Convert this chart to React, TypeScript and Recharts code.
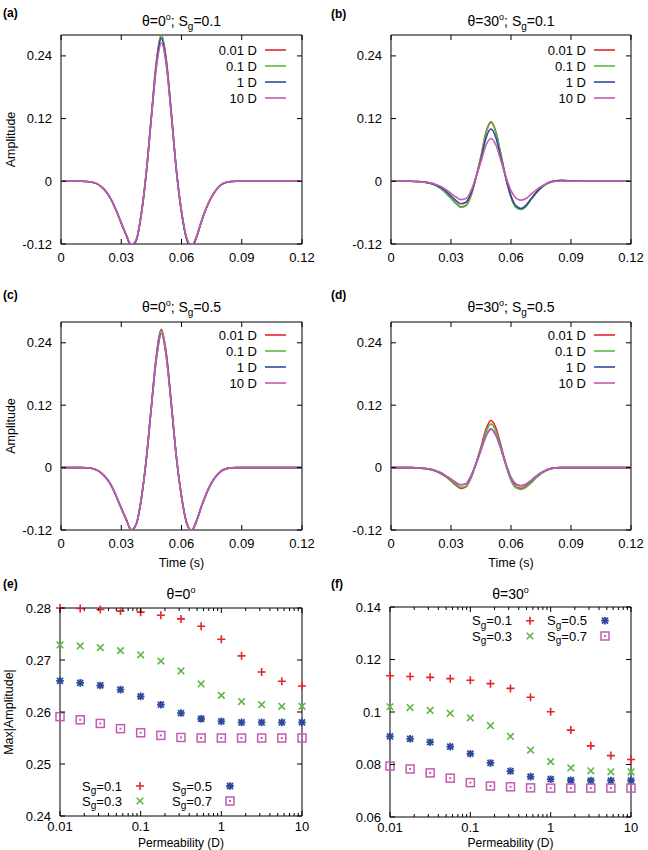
import React from 'react';
import { LineChart, Line, XAxis, YAxis, ScatterChart, Scatter, ReferenceArea, Customized } from 'recharts';

const FONT = '"Liberation Sans", Arial, Helvetica, sans-serif';
const RED = '#e3262b';
const GREEN = '#5db646';
const BLUE = '#2d4b9c';
const PINK = '#c45bb2';
const SERIES_COLORS = [RED, GREEN, BLUE, PINK];

// ---------- time-domain panels (a)-(d) ----------
const timeS = [0, 0.005, 0.01, 0.0125, 0.015, 0.0175, 0.02, 0.0225, 0.025, 0.0275, 0.03, 0.0325, 0.035, 0.0375, 0.04, 0.0425, 0.045, 0.0475, 0.05, 0.0525, 0.055, 0.0575, 0.06, 0.0625, 0.065, 0.0675, 0.07, 0.0725, 0.075, 0.0775, 0.08, 0.0825, 0.085, 0.0875, 0.09, 0.1, 0.11, 0.12];
const permLabels = ['0.01 D', '0.1 D', '1 D', '10 D'];
const timeTicks = [0, 0.03, 0.06, 0.09, 0.12];
const ampTicks = [-0.12, 0, 0.12, 0.24];

// (a) theta=0, Sg=0.1
const aD001 = [0, 0, 0, -0.0003, -0.0012, -0.004, -0.01, -0.02, -0.035, -0.056, -0.08, -0.103, -0.123, -0.112, -0.062, 0.018, 0.125, 0.228, 0.28, 0.23, 0.128, 0.02, -0.058, -0.109, -0.125, -0.106, -0.076, -0.05, -0.03, -0.015, -0.006, -0.002, -0.0005, 0, 0, 0, 0, 0];
const aD01 = [0, 0, 0, -0.0003, -0.0012, -0.004, -0.01, -0.02, -0.035, -0.056, -0.08, -0.103, -0.123, -0.112, -0.062, 0.018, 0.124, 0.227, 0.279, 0.229, 0.127, 0.02, -0.058, -0.109, -0.125, -0.106, -0.076, -0.05, -0.03, -0.015, -0.006, -0.002, -0.0005, 0, 0, 0, 0, 0];
const aD1 = [0, 0, 0, -0.0003, -0.0012, -0.004, -0.01, -0.02, -0.035, -0.056, -0.08, -0.103, -0.124, -0.113, -0.063, 0.017, 0.123, 0.223, 0.274, 0.225, 0.125, 0.019, -0.059, -0.11, -0.126, -0.107, -0.076, -0.05, -0.03, -0.015, -0.006, -0.002, -0.0005, 0, 0, 0, 0, 0];
const aD10 = [0, 0, 0, -0.0003, -0.0012, -0.004, -0.01, -0.02, -0.035, -0.056, -0.079, -0.102, -0.121, -0.111, -0.062, 0.017, 0.121, 0.218, 0.265, 0.22, 0.123, 0.019, -0.057, -0.107, -0.122, -0.105, -0.075, -0.05, -0.03, -0.015, -0.006, -0.002, -0.0005, 0, 0, 0, 0, 0];

// (b) theta=30, Sg=0.1
const bD001 = [0, 0, 0, -0.0005, -0.001, -0.002, -0.004, -0.008, -0.014, -0.022, -0.032, -0.042, -0.049, -0.046, -0.027, 0.008, 0.048, 0.094, 0.1138, 0.094, 0.05, 0.006, -0.03, -0.049, -0.053, -0.047, -0.034, -0.022, -0.012, -0.005, -0.001, 0.001, 0.0015, 0.001, 0.0005, 0, 0, 0];
const bD01 = [0, 0, 0, -0.0005, -0.001, -0.002, -0.004, -0.008, -0.014, -0.023, -0.033, -0.043, -0.05, -0.047, -0.028, 0.007, 0.047, 0.092, 0.1121, 0.093, 0.05, 0.006, -0.031, -0.05, -0.054, -0.048, -0.035, -0.023, -0.013, -0.006, -0.002, 0.0005, 0.001, 0.001, 0.0005, 0, 0, 0];
const bD1 = [0, 0, 0, -0.0005, -0.001, -0.002, -0.004, -0.007, -0.012, -0.019, -0.028, -0.037, -0.043, -0.04, -0.023, 0.007, 0.042, 0.083, 0.1001, 0.083, 0.044, 0.005, -0.028, -0.047, -0.052, -0.046, -0.034, -0.022, -0.012, -0.005, -0.001, 0.001, 0.002, 0.0015, 0.0005, 0, 0, 0];
const bD10 = [0, 0, 0, -0.0005, -0.001, -0.002, -0.003, -0.006, -0.01, -0.016, -0.023, -0.03, -0.035, -0.033, -0.018, 0.008, 0.038, 0.069, 0.0819, 0.069, 0.039, 0.008, -0.018, -0.032, -0.036, -0.033, -0.025, -0.017, -0.01, -0.005, -0.002, 0, 0.0005, 0.0005, 0, 0, 0, 0];

// (c) theta=0, Sg=0.5
const cD001 = [0, 0, 0, -0.0003, -0.0012, -0.004, -0.01, -0.02, -0.034, -0.055, -0.078, -0.1, -0.12, -0.109, -0.06, 0.017, 0.119, 0.216, 0.266, 0.218, 0.121, 0.019, -0.056, -0.106, -0.121, -0.103, -0.074, -0.049, -0.029, -0.015, -0.006, -0.002, -0.0005, 0, 0, 0, 0, 0];
const cD01 = [0, 0, 0, -0.0003, -0.0012, -0.004, -0.01, -0.02, -0.034, -0.055, -0.078, -0.1, -0.121, -0.109, -0.06, 0.017, 0.118, 0.214, 0.263, 0.216, 0.12, 0.019, -0.056, -0.106, -0.122, -0.103, -0.074, -0.049, -0.029, -0.015, -0.006, -0.002, -0.0005, 0, 0, 0, 0, 0];
const cD1 = [0, 0, 0, -0.0003, -0.0012, -0.004, -0.01, -0.02, -0.034, -0.055, -0.078, -0.1, -0.12, -0.108, -0.059, 0.017, 0.116, 0.21, 0.258, 0.212, 0.118, 0.018, -0.055, -0.105, -0.121, -0.102, -0.074, -0.049, -0.029, -0.015, -0.006, -0.002, -0.0005, 0, 0, 0, 0, 0];
const cD10 = [0, 0, 0, -0.0003, -0.0012, -0.004, -0.01, -0.02, -0.034, -0.055, -0.078, -0.1, -0.119, -0.108, -0.059, 0.017, 0.116, 0.209, 0.258, 0.211, 0.117, 0.018, -0.055, -0.105, -0.12, -0.102, -0.074, -0.049, -0.029, -0.015, -0.006, -0.002, -0.0005, 0, 0, 0, 0, 0];

// (d) theta=30, Sg=0.5
const dD001 = [0, 0, 0, -0.0003, -0.001, -0.002, -0.004, -0.007, -0.012, -0.018, -0.026, -0.034, -0.04, -0.037, -0.02, 0.008, 0.04, 0.074, 0.0907, 0.076, 0.042, 0.006, -0.022, -0.037, -0.04, -0.036, -0.028, -0.019, -0.011, -0.005, -0.002, -0.0005, 0, 0, 0, 0, 0, 0];
const dD01 = [0, 0, 0, -0.0003, -0.001, -0.002, -0.004, -0.007, -0.011, -0.017, -0.025, -0.032, -0.038, -0.036, -0.019, 0.008, 0.038, 0.069, 0.0841, 0.07, 0.038, 0.003, -0.025, -0.039, -0.042, -0.038, -0.03, -0.02, -0.012, -0.006, -0.002, -0.0005, 0, 0, 0, 0, 0, 0];
const dD1 = [0, 0, 0, -0.0003, -0.001, -0.002, -0.003, -0.006, -0.01, -0.016, -0.022, -0.029, -0.033, -0.031, -0.016, 0.007, 0.034, 0.061, 0.0744, 0.062, 0.036, 0.006, -0.019, -0.032, -0.035, -0.032, -0.025, -0.017, -0.01, -0.005, -0.002, -0.0005, 0, 0, 0, 0, 0, 0];
const dD10 = [0, 0, 0, -0.0003, -0.001, -0.002, -0.003, -0.006, -0.01, -0.016, -0.022, -0.029, -0.033, -0.031, -0.016, 0.007, 0.034, 0.061, 0.074, 0.062, 0.036, 0.006, -0.019, -0.032, -0.035, -0.032, -0.025, -0.017, -0.01, -0.005, -0.002, -0.0005, 0, 0, 0, 0, 0, 0];

// ---------- permeability panels (e)-(f) ----------
const permD = [0.01, 0.0178, 0.0316, 0.0562, 0.1, 0.178, 0.316, 0.562, 1, 1.78, 3.16, 5.62, 10];
const permMajor = [0.01, 0.1, 1, 10];
const permMinor = [0.02, 0.03, 0.04, 0.05, 0.06, 0.07, 0.08, 0.09, 0.2, 0.3, 0.4, 0.5, 0.6, 0.7, 0.8, 0.9, 2, 3, 4, 5, 6, 7, 8, 9];
const sgLabels = ['0.1', '0.3', '0.5', '0.7'];

const eSg01 = [0.28, 0.2799, 0.2797, 0.2794, 0.2792, 0.2786, 0.2779, 0.2765, 0.274, 0.2708, 0.2677, 0.2659, 0.265];
const eSg03 = [0.2729, 0.2727, 0.2724, 0.2718, 0.271, 0.2698, 0.2679, 0.2654, 0.2632, 0.262, 0.2614, 0.2611, 0.2611];
const eSg05 = [0.266, 0.2656, 0.2651, 0.2643, 0.263, 0.2614, 0.2598, 0.2587, 0.2582, 0.258, 0.258, 0.258, 0.258];
const eSg07 = [0.2591, 0.2585, 0.2578, 0.2568, 0.256, 0.2555, 0.2551, 0.255, 0.255, 0.255, 0.255, 0.255, 0.255];
const eTicks = [0.24, 0.25, 0.26, 0.27, 0.28];

const fSg01 = [0.1138, 0.1135, 0.1132, 0.1127, 0.1121, 0.1108, 0.109, 0.1056, 0.1001, 0.0931, 0.0871, 0.0834, 0.0819];
const fSg03 = [0.102, 0.1017, 0.1006, 0.0995, 0.0978, 0.0948, 0.0907, 0.0855, 0.0811, 0.0787, 0.0776, 0.0772, 0.0772];
const fSg05 = [0.0907, 0.0898, 0.0885, 0.0868, 0.0841, 0.0806, 0.0775, 0.0754, 0.0744, 0.074, 0.0739, 0.0739, 0.0739];
const fSg07 = [0.0794, 0.0783, 0.0768, 0.0748, 0.0731, 0.0718, 0.0715, 0.0711, 0.071, 0.071, 0.071, 0.071, 0.071];
const fTicks = [0.06, 0.08, 0.1, 0.12, 0.14];

// ---------- helpers ----------
const fmt = (v: number) => String(v);

const makeXTick = (ph: number, minor: number[] = [], labelDy = 18) => (p: any) => {
  const { x, y, payload } = p;
  const v = payload.value;
  const isMinor = minor.includes(v);
  const len = isMinor ? 3 : 5;
  return (
    <g>
      <line x1={x} x2={x} y1={y} y2={y - len} stroke="#000" strokeWidth={1} />
      <line x1={x} x2={x} y1={y - ph} y2={y - ph + len} stroke="#000" strokeWidth={1} />
      {!isMinor && (
        <text x={x} y={y + labelDy} textAnchor="middle" fontSize={13} fontFamily={FONT} fill="#000">
          {fmt(v)}
        </text>
      )}
    </g>
  );
};

const makeYTick = (pw: number) => (p: any) => {
  const { x, y, payload } = p;
  return (
    <g>
      <line x1={x} x2={x + 5} y1={y} y2={y} stroke="#000" strokeWidth={1} />
      <line x1={x + pw} x2={x + pw - 5} y1={y} y2={y} stroke="#000" strokeWidth={1} />
      <text x={x - 9} y={y + 4.5} textAnchor="end" fontSize={13} fontFamily={FONT} fill="#000">
        {fmt(payload.value)}
      </text>
    </g>
  );
};

type Kind = 'plus' | 'cross' | 'star' | 'square';
const KINDS: Kind[] = ['plus', 'cross', 'star', 'square'];

function marker(kind: Kind, cx: number, cy: number, color: string) {
  if (kind === 'plus') {
    const s = 4;
    return <path d={`M${cx - s} ${cy}H${cx + s}M${cx} ${cy - s}V${cy + s}`} stroke={color} strokeWidth={1.6} fill="none" />;
  }
  if (kind === 'cross') {
    const d = 3.3;
    return <path d={`M${cx - d} ${cy - d}L${cx + d} ${cy + d}M${cx - d} ${cy + d}L${cx + d} ${cy - d}`} stroke={color} strokeWidth={1.6} fill="none" />;
  }
  if (kind === 'star') {
    const s = 3.8;
    const d = 3;
    return (
      <path
        d={`M${cx - s} ${cy}H${cx + s}M${cx} ${cy - s}V${cy + s}M${cx - d} ${cy - d}L${cx + d} ${cy + d}M${cx - d} ${cy + d}L${cx + d} ${cy - d}`}
        stroke={color}
        strokeWidth={1.8}
        fill="none"
      />
    );
  }
  return (
    <g>
      <rect x={cx - 4} y={cy - 4} width={8} height={8} fill="none" stroke={color} strokeWidth={1.5} />
      <rect x={cx - 1} y={cy - 1} width={2} height={2} fill={color} />
    </g>
  );
}

function Title({ x, y, theta, sg }: { x: number; y: number; theta: string; sg?: string }) {
  return (
    <text x={x} y={y} textAnchor="middle" fontSize={14} fontFamily={FONT} fill="#000">
      <tspan>θ={theta}</tspan>
      <tspan dy={-6} fontSize={9}>o</tspan>
      {sg ? (
        <>
          <tspan dy={6}>; S</tspan>
          <tspan dy={4} fontSize={10}>g</tspan>
          <tspan dy={-4}>={sg}</tspan>
        </>
      ) : null}
    </text>
  );
}

function SgText({ x, y, sg }: { x: number; y: number; sg: string }) {
  return (
    <text x={x} y={y} textAnchor="end" fontSize={13} fontFamily={FONT} fill="#000">
      <tspan>S</tspan>
      <tspan dy={3.5} fontSize={10}>g</tspan>
      <tspan dy={-3.5}>={sg}</tspan>
    </text>
  );
}

type Margin = { top: number; right: number; bottom: number; left: number };
const Y_W = 40;
const X_H = 30;

function LinePanel(props: {
  left: number; top: number; h: number; m: Margin; series: number[][];
  theta: string; sg: string; tag: string; titleY: number; tagX: number; tagY: number;
  legendDy: number; yTitle?: string; xTitle?: string; xTitleY?: number;
}) {
  const { left, top, h, m, series, theta, sg, tag, titleY, tagX, tagY, legendDy, yTitle, xTitle, xTitleY } = props;
  const w = 324;
  const px0 = m.left + Y_W;
  const px1 = w - m.right;
  const py0 = m.top;
  const py1 = h - m.bottom - X_H;
  const pw = px1 - px0;
  const ph = py1 - py0;
  const rows = timeS.map((t, i) => ({ t, s0: series[0][i], s1: series[1][i], s2: series[2][i], s3: series[3][i] }));
  const overlay = (
    <g>
      <Title x={(px0 + px1) / 2} y={titleY} theta={theta} sg={sg} />
      <text x={tagX} y={tagY} fontSize={12} fontWeight="bold" fontFamily={FONT} fill="#000">{tag}</text>
      {yTitle ? (
        <text x={11} y={(py0 + py1) / 2} transform={`rotate(-90, 11, ${(py0 + py1) / 2})`} textAnchor="middle" dominantBaseline="central" fontSize={12.5} fontFamily={FONT} fill="#000">{yTitle}</text>
      ) : null}
      {xTitle ? (
        <text x={(px0 + px1) / 2} y={xTitleY} textAnchor="middle" fontSize={12.5} fontFamily={FONT} fill="#000">{xTitle}</text>
      ) : null}
      {permLabels.map((lab, i) => {
        const yy = py0 + legendDy + 16 * i;
        return (
          <g key={lab}>
            <text x={px1 - 45} y={yy + 4.5} textAnchor="end" fontSize={13} fontFamily={FONT} fill="#000">{lab}</text>
            <line x1={px1 - 37} x2={px1 - 16} y1={yy} y2={yy} stroke={SERIES_COLORS[i]} strokeWidth={1.6} />
          </g>
        );
      })}
    </g>
  );
  return (
    <div style={{ position: 'absolute', left, top, width: w, height: h }}>
      <LineChart width={w} height={h} data={rows} margin={m}>
        <XAxis dataKey="t" type="number" domain={[timeTicks[0], timeTicks[timeTicks.length - 1]]} ticks={timeTicks} allowDataOverflow interval={0} tickSize={0} tickMargin={0} axisLine={false} tickLine={false} tick={makeXTick(ph)} height={X_H} />
        <YAxis type="number" domain={[-0.12, 0.28]} ticks={ampTicks} allowDataOverflow interval={0} tickSize={0} tickMargin={0} axisLine={false} tickLine={false} tick={makeYTick(pw)} width={Y_W} />
        {['s0', 's1', 's2', 's3'].map((k, i) => (
          <Line key={k} dataKey={k} type="monotone" stroke={SERIES_COLORS[i]} strokeWidth={1.6} dot={false} isAnimationActive={false} />
        ))}
        <ReferenceArea x1={0} x2={0.12} y1={-0.12} y2={0.28} fill="none" stroke="#000" strokeWidth={1} ifOverflow="visible" />
        <Customized component={overlay} />
      </LineChart>
    </div>
  );
}

function ScatterPanel(props: {
  left: number; top: number; m: Margin; series: number[][]; yDomain: [number, number]; yTicks: number[];
  theta: string; tag: string; titleY: number; tagX: number; tagY: number;
  legRows: number[]; legCols: number[]; yTitle?: string; xTitle: string; xTitleY: number;
}) {
  const { left, top, m, series, yDomain, yTicks, theta, tag, titleY, tagX, tagY, legRows, legCols, yTitle, xTitle, xTitleY } = props;
  const w = 324;
  const h = 280;
  const px0 = m.left + Y_W;
  const px1 = w - m.right;
  const py0 = m.top;
  const py1 = h - m.bottom - X_H;
  const pw = px1 - px0;
  const ph = py1 - py0;
  const allTicks = [...permMajor, ...permMinor].sort((a, b) => a - b);
  const overlay = (
    <g>
      <Title x={(px0 + px1) / 2} y={titleY} theta={theta} />
      <text x={tagX} y={tagY} fontSize={12} fontWeight="bold" fontFamily={FONT} fill="#000">{tag}</text>
      {yTitle ? (
        <text x={9} y={(py0 + py1) / 2} transform={`rotate(-90, 9, ${(py0 + py1) / 2})`} textAnchor="middle" dominantBaseline="central" fontSize={12.5} fontFamily={FONT} fill="#000">{yTitle}</text>
      ) : null}
      <text x={(px0 + px1) / 2} y={xTitleY} textAnchor="middle" fontSize={12} fontFamily={FONT} fill="#000">{xTitle}</text>
      {sgLabels.map((sg, i) => {
        const col = Math.floor(i / 2);
        const row = i % 2;
        const yy = legRows[row];
        const tx = legCols[col];
        return (
          <g key={sg}>
            <SgText x={tx} y={yy + 4.5} sg={sg} />
            {marker(KINDS[i], tx + 18, yy, SERIES_COLORS[i])}
          </g>
        );
      })}
    </g>
  );
  return (
    <div style={{ position: 'absolute', left, top, width: w, height: h }}>
      <ScatterChart width={w} height={h} margin={m}>
        <XAxis dataKey="k" type="number" scale="log" domain={[0.01, 10]} ticks={allTicks} interval={0} tickSize={0} tickMargin={0} axisLine={false} tickLine={false} tick={makeXTick(ph, permMinor, 15)} height={X_H} />
        <YAxis dataKey="v" type="number" domain={yDomain} ticks={yTicks} interval={0} tickSize={0} tickMargin={0} axisLine={false} tickLine={false} tick={makeYTick(pw)} width={Y_W} />
        <ReferenceArea x1={0.01} x2={10} y1={yDomain[0]} y2={yDomain[1]} fill="none" stroke="#000" strokeWidth={1} ifOverflow="visible" />
        {series.map((vals, i) => (
          <Scatter
            key={sgLabels[i]}
            data={permD.map((k, j) => ({ k, v: vals[j] }))}
            isAnimationActive={false}
            shape={(p: any) => marker(KINDS[i], p.cx, p.cy, SERIES_COLORS[i])}
          />
        ))}
        <Customized component={overlay} />
      </ScatterChart>
    </div>
  );
}

export default function App() {
  return (
    <div style={{ position: 'absolute', left: 0, top: 0, width: 648, height: 850, background: '#fff', overflow: 'hidden' }}>
      <LinePanel left={0} top={0} h={280} m={{ top: 35, right: 22, bottom: 6, left: 21 }} series={[aD001, aD01, aD1, aD10]}
        theta="0" sg="0.1" tag="(a)" titleY={26} tagX={3} tagY={17} legendDy={15} yTitle="Amplitude" />
      <LinePanel left={324} top={0} h={280} m={{ top: 35, right: 17, bottom: 6, left: 27 }} series={[bD001, bD01, bD1, bD10]}
        theta="30" sg="0.1" tag="(b)" titleY={26} tagX={7} tagY={18} legendDy={15} />
      <LinePanel left={0} top={280} h={290} m={{ top: 42, right: 22, bottom: 10, left: 21 }} series={[cD001, cD01, cD1, cD10]}
        theta="0" sg="0.5" tag="(c)" titleY={32} tagX={3} tagY={19} legendDy={13} yTitle="Amplitude" xTitle="Time (s)" xTitleY={287} />
      <LinePanel left={324} top={280} h={290} m={{ top: 42, right: 17, bottom: 10, left: 27 }} series={[dD001, dD01, dD1, dD10]}
        theta="30" sg="0.5" tag="(d)" titleY={32} tagX={7} tagY={19} legendDy={13} xTitle="Time (s)" xTitleY={287} />
      <ScatterPanel left={0} top={570} m={{ top: 38, right: 22, bottom: 4, left: 20 }} series={[eSg01, eSg03, eSg05, eSg07]}
        yDomain={[0.24, 0.28]} yTicks={eTicks} theta="0" tag="(e)" titleY={28.5} tagX={3} tagY={18}
        legRows={[216, 231]} legCols={[122, 212]} yTitle="Max|Amplitude|" xTitle="Permeability (D)" xTitleY={277} />
      <ScatterPanel left={324} top={570} m={{ top: 37, right: 17, bottom: 3, left: 26 }} series={[fSg01, fSg03, fSg05, fSg07]}
        yDomain={[0.06, 0.14]} yTicks={fTicks} theta="30" tag="(f)" titleY={29} tagX={7} tagY={18}
        legRows={[50.7, 66]} legCols={[188, 263]} xTitle="Permeability (D)" xTitleY={277} />
    </div>
  );
}
